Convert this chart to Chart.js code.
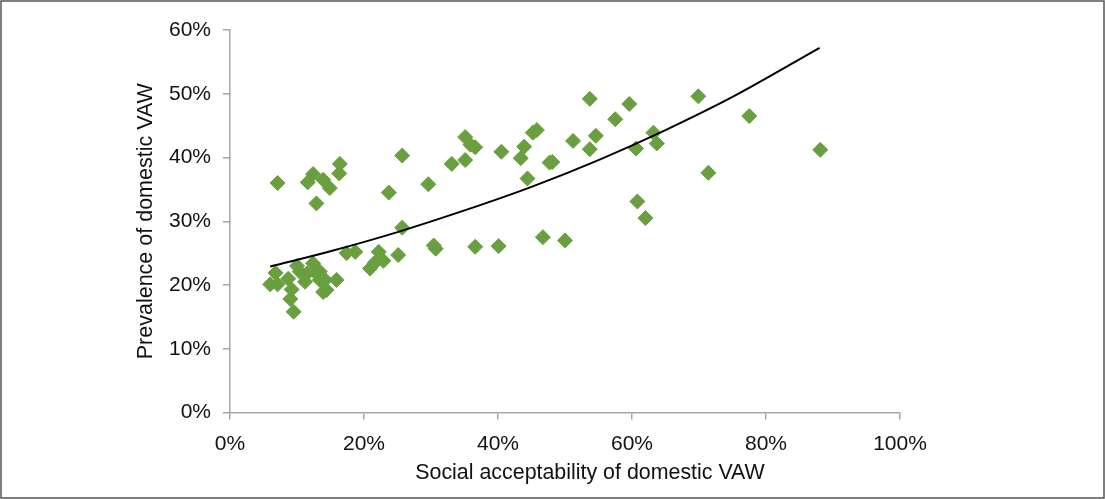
<!DOCTYPE html>
<html>
<head>
<meta charset="utf-8">
<script src="https://cdn.jsdelivr.net/npm/chart.js@4"></script>
<style>
html,body{margin:0;padding:0;background:#fff;}
#wrap{width:1105px;height:499px;position:relative;}
</style>
</head>
<body>
<div id="wrap"><canvas id="c" width="1105" height="499"></canvas></div>
<script>
// Social acceptability of domestic VAW (%)
const acceptability = [
  6.0, 6.8, 7.1, 8.7, 9.2, 9.0, 9.5, 10.0, 10.4, 11.2, 11.5, 12.4, 12.6, 13.4, 13.4, 14.2, 14.4, 13.9, 15.9,
  7.1, 12.4, 11.6, 13.9, 14.9, 12.9, 16.4, 16.3,
  17.4, 18.7, 20.9, 21.6, 22.2, 22.9, 25.1, 25.7, 23.7, 25.7, 29.6, 30.4, 30.7,
  33.1, 35.1, 35.1, 35.9, 36.6, 36.6, 40.1, 40.5, 43.4, 43.9, 44.4, 45.2, 45.8,
  46.7, 47.7, 48.1, 50.0, 51.2, 53.7, 53.7, 54.6, 57.5, 59.6, 60.6, 60.8, 62.0,
  63.2, 63.7, 69.9, 71.4, 77.5, 88.1
];
// Prevalence of domestic VAW (%)
const prevalence = [
  20.1, 21.9, 20.1, 21.0, 19.3, 17.8, 15.8, 23.0, 22.1, 20.5, 21.8, 23.4, 22.1, 20.8, 22.1, 20.8, 19.2, 18.9, 20.8,
  36.0, 37.4, 36.1, 36.5, 35.2, 32.8, 39.0, 37.5,
  25.0, 25.2, 22.6, 23.5, 25.2, 23.8, 24.7, 29.0, 34.5, 40.3, 35.8, 26.2, 25.7,
  39.0, 39.6, 43.2, 42.0, 41.6, 26.0, 26.1, 40.9, 39.9, 41.7, 36.7, 43.9, 44.3,
  27.5, 39.2, 39.3, 27.0, 42.6, 49.2, 41.3, 43.4, 46.0, 48.4, 41.4, 33.1, 30.5,
  43.9, 42.2, 49.6, 37.6, 46.5, 41.2
];
// Trend line (exponential)
const trendX = [6, 15, 25, 35, 45, 55, 65, 75, 88];
const trendY = [22.9, 25.3, 28.3, 31.7, 35.4, 39.6, 44.3, 49.5, 57.2];

const xTicks = [0, 20, 40, 60, 80, 100];
const yTicks = [0, 10, 20, 30, 40, 50, 60];
const xTitle = 'Social acceptability of domestic VAW';
const yTitle = 'Prevalence of domestic VAW';

const points = acceptability.map((x, i) => ({x: x, y: prevalence[i]}));
const trend = trendX.map((x, i) => ({x: x, y: trendY[i]}));

const FONT = 'Liberation Sans, Arial, Helvetica, sans-serif';
const green = 'rgb(106,159,64)';
const axisGray = '#a6a6a6';

const frame = {
  id: 'frame',
  afterDraw(chart) {
    const ctx = chart.ctx;
    ctx.save();
    ctx.strokeStyle = '#555';
    ctx.lineWidth = 1.5;
    ctx.strokeRect(1, 1, 1103, 497);
    // x-axis title (sits right of the plot centre in the original)
    ctx.fillStyle = '#111';
    ctx.font = '21.4px ' + FONT;
    ctx.textAlign = 'center';
    ctx.textBaseline = 'middle';
    ctx.fillText(xTitle, 590, 473);
    ctx.restore();
  }
};

new Chart(document.getElementById('c'), {
  type: 'scatter',
  data: {
    datasets: [
      {
        label: 'Countries',
        data: points,
        pointStyle: 'rectRot',
        pointRadius: 7.5,
        pointHoverRadius: 7.5,
        backgroundColor: green,
        borderColor: green,
        borderWidth: 1,
        order: 2
      },
      {
        label: 'Trend',
        type: 'line',
        data: trend,
        borderColor: '#000',
        borderWidth: 2,
        pointRadius: 0,
        fill: false,
        cubicInterpolationMode: 'monotone',
        order: 1
      }
    ]
  },
  options: {
    responsive: false,
    animation: false,
    events: [],
    layout: {padding: {left: 0, right: 205, top: 30, bottom: 0}},
    plugins: {legend: {display: false}, tooltip: {enabled: false}},
    scales: {
      x: {
        type: 'linear',
        min: 0, max: 100,
        afterBuildTicks(scale) { scale.ticks = xTicks.map(v => ({value: v})); },
        afterFit(scale) { scale.height = 86.5; },
        border: {display: true, color: axisGray, width: 1.5},
        grid: {display: true, drawOnChartArea: false, drawTicks: true, tickLength: 7, color: axisGray, lineWidth: 1.5},
        ticks: {padding: 12, color: '#111', font: {family: FONT, size: 21}, callback: v => v + '%', maxRotation: 0},
        title: {display: false}
      },
      y: {
        type: 'linear',
        min: 0, max: 60,
        afterBuildTicks(scale) { scale.ticks = yTicks.map(v => ({value: v})); },
        afterFit(scale) { scale.width = 230; },
        border: {display: true, color: axisGray, width: 1.5},
        grid: {display: true, drawOnChartArea: false, drawTicks: true, tickLength: 7, color: axisGray, lineWidth: 1.5},
        ticks: {padding: 12, color: '#111', font: {family: FONT, size: 21}, callback: v => v + '%'},
        title: {display: true, text: yTitle, color: '#111', font: {family: FONT, size: 21.5}, padding: {top: 133, bottom: 0}}
      }
    }
  },
  plugins: [frame]
});
</script>
</body>
</html>
